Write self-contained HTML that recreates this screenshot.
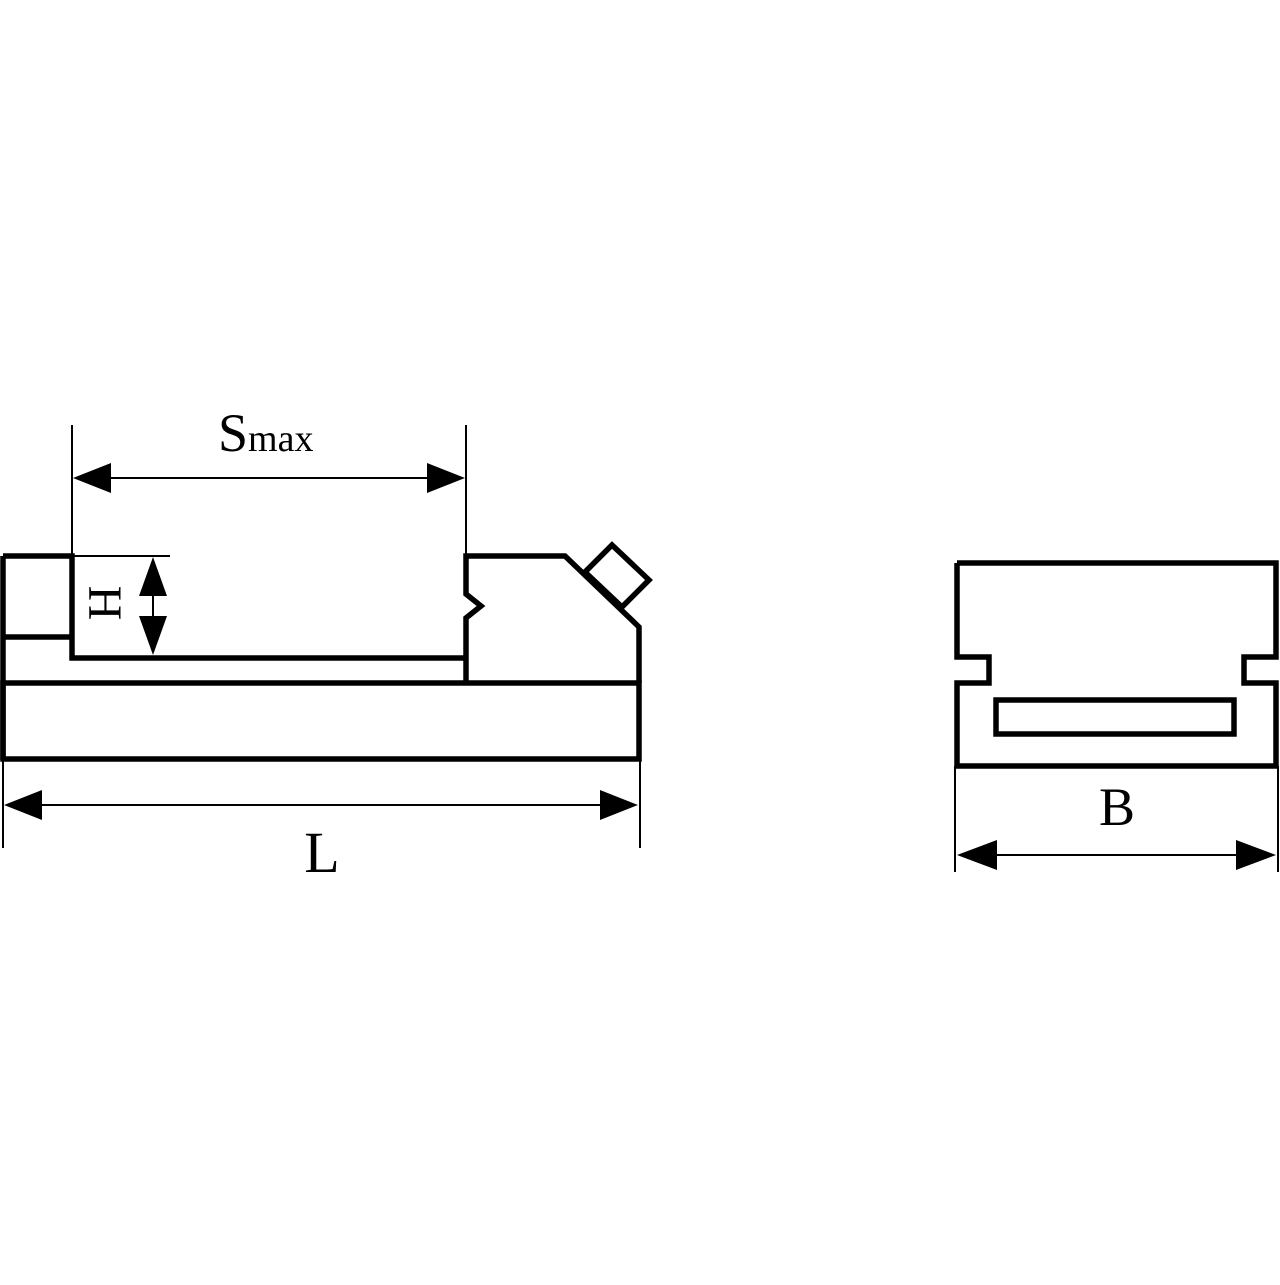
<!DOCTYPE html>
<html><head><meta charset="utf-8"><style>html,body{margin:0;padding:0;background:#fff}</style></head>
<body>
<svg width="1280" height="1280" viewBox="0 0 1280 1280" xmlns="http://www.w3.org/2000/svg">
<g fill="none" stroke="#000" stroke-width="5.5" stroke-linejoin="miter">
<polyline points="3,556 72,556 72,658 466,658"/>
<line x1="3" y1="556" x2="3" y2="760"/>
<line x1="3" y1="637" x2="72" y2="637"/>
<polyline points="466,683 466,618 481,606 466,594 466,556 565,556 639,627 639,683"/>
<polygon points="612,545 649,580 622,607 585,572"/>
<rect x="3" y="683" width="636" height="76"/>
<polyline points="957,563 1276,563 1276,657 1244,657 1244,683 1276,683 1276,766 957,766 957,683 989,683 989,657 957,657 957,563"/>
<rect x="996" y="700" width="238" height="34"/>
</g>
<g stroke="#000" stroke-width="2" fill="none">
<line x1="72" y1="425" x2="72" y2="556"/>
<line x1="466" y1="425" x2="466" y2="556"/>
<line x1="110" y1="478" x2="428" y2="478"/>
<line x1="72" y1="556" x2="170" y2="556"/>
<line x1="153" y1="595" x2="153" y2="618"/>
<line x1="3" y1="760" x2="3" y2="848"/>
<line x1="640" y1="760" x2="640" y2="848"/>
<line x1="40" y1="805" x2="600" y2="805"/>
<line x1="955" y1="766" x2="955" y2="872"/>
<line x1="1278" y1="766" x2="1278" y2="872"/>
<line x1="995" y1="855" x2="1238" y2="855"/>
</g>
<g fill="#000">
<polygon points="73,478 111,463 111,493"/>
<polygon points="465,478 427,463 427,493"/>
<polygon points="153,557 139,596 167,596"/>
<polygon points="153,655 139,616 167,616"/>
<polygon points="4,805 42,790 42,820"/>
<polygon points="638,805 600,790 600,820"/>
<polygon points="957,855 997,840 997,870"/>
<polygon points="1276,855 1236,840 1236,870"/>
</g>
<g font-family="Liberation Serif, serif" fill="#000">
<text x="218" y="451" font-size="54">S<tspan font-size="38">max</tspan></text>
<text x="322" y="872" font-size="58" text-anchor="middle">L</text>
<text x="1117" y="825" font-size="54" text-anchor="middle">B</text>
<text x="0" y="0" font-size="48" text-anchor="middle" transform="translate(89,603) rotate(90)">H</text>
</g>
</svg>
</body></html>
